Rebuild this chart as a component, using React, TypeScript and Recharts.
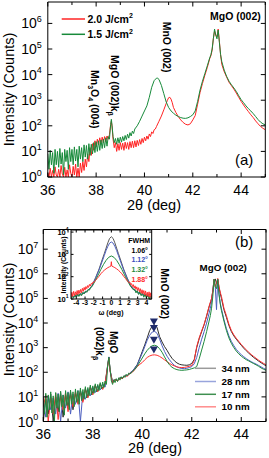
import React from "react";
import { ComposedChart, LineChart, Line, Scatter, XAxis, YAxis } from "recharts";

const FONT = '"Liberation Sans", Arial, Helvetica, sans-serif';

type Pt = [number, number];

// ---------- shared axis ticks ----------
const degTicks = [36, 37, 38, 39, 40, 41, 42, 43, 44, 45];
const degLabels = [36, 38, 40, 42, 44];
const decadesA = [1, 10, 100, 1e3, 1e4, 1e5, 1e6];
const decadesB = [1, 10, 100, 1e3, 1e4, 1e5, 1e6, 1e7];
const omegaTicks = [-4, -3, -2, -1, 0, 1, 2, 3, 4];
const decadesInset = [10, 100, 1e3, 1e4];

// ---------- panel (a): fluence series ----------
const fluence15: Pt[] = [
  [36.0, 8], [36.05, 2], [36.1, 11], [36.15, 3], [36.2, 9], [36.25, 1.4], [36.3, 12], [36.35, 3],
  [36.4, 10], [36.45, 2.4], [36.5, 13], [36.55, 3.2], [36.6, 9], [36.65, 1.2], [36.7, 12], [36.75, 4],
  [36.8, 11], [36.85, 2], [36.9, 14], [36.95, 4], [37.0, 12], [37.05, 3], [37.1, 15], [37.15, 4.2],
  [37.2, 12], [37.25, 2.5], [37.3, 16], [37.35, 5], [37.4, 14], [37.45, 4], [37.5, 18], [37.55, 6],
  [37.6, 17], [37.65, 5], [37.7, 20], [37.75, 7], [37.8, 19], [37.85, 8], [37.9, 22], [37.95, 9],
  [38.0, 24], [38.05, 10], [38.1, 26], [38.15, 11], [38.2, 28], [38.25, 13], [38.3, 30], [38.35, 14],
  [38.4, 34], [38.45, 16], [38.5, 38], [38.55, 30], [38.6, 110], [38.63, 180], [38.66, 100], [38.7, 38],
  [38.75, 22], [38.8, 32], [38.85, 19], [38.9, 34], [38.95, 21], [39.0, 36], [39.05, 23], [39.1, 38],
  [39.15, 26], [39.2, 42], [39.25, 29], [39.3, 47], [39.35, 33], [39.4, 54], [39.45, 40], [39.5, 62],
  [39.55, 50], [39.6, 75], [39.7, 100], [39.8, 150], [39.9, 240], [40.0, 380], [40.1, 600], [40.2, 1300],
  [40.3, 3200], [40.4, 5800], [40.5, 7300], [40.55, 7200], [40.6, 6500], [40.7, 3800], [40.8, 1800],
  [40.9, 850], [41.0, 520], [41.1, 380], [41.2, 310], [41.3, 260], [41.4, 230], [41.5, 210], [41.6, 198],
  [41.7, 195], [41.8, 205], [41.9, 230], [42.0, 270], [42.1, 380], [42.2, 900], [42.3, 2500], [42.4, 5500],
  [42.5, 11000], [42.6, 22000], [42.7, 45000], [42.75, 60000], [42.8, 100000], [42.85, 250000],
  [42.9, 600000], [42.95, 350000], [43.0, 250000], [43.05, 550000], [43.1, 180000], [43.15, 60000],
  [43.2, 32000], [43.3, 15000], [43.4, 8500], [43.5, 5500], [43.6, 4000], [43.7, 3000], [43.8, 2200],
  [43.9, 1500], [44.0, 1050], [44.1, 800], [44.2, 600], [44.3, 470], [44.4, 380], [44.5, 300],
  [44.6, 230], [44.7, 175], [44.8, 140], [44.9, 120], [45.0, 108],
];

const fluence20: Pt[] = [
  [36.0, 1.5], [36.05, 1], [36.1, 2.2], [36.15, 1], [36.2, 1.8], [36.25, 1], [36.3, 2.5], [36.35, 1.2],
  [36.4, 1], [36.45, 2], [36.5, 1], [36.55, 2.8], [36.6, 1.3], [36.65, 1], [36.7, 2.4], [36.75, 1],
  [36.8, 1.9], [36.85, 1], [36.9, 3], [36.95, 1.4], [37.0, 1], [37.05, 2.6], [37.1, 1.2], [37.15, 3.2],
  [37.2, 1], [37.25, 2.2], [37.3, 1], [37.35, 3.5], [37.4, 1.5], [37.45, 4], [37.5, 1.8], [37.55, 5],
  [37.6, 2.5], [37.65, 8], [37.7, 4], [37.75, 14], [37.8, 7], [37.85, 20], [37.9, 11], [37.95, 26],
  [38.0, 15], [38.05, 30], [38.1, 18], [38.15, 34], [38.2, 20], [38.25, 36], [38.3, 22], [38.35, 38],
  [38.4, 24], [38.45, 40], [38.5, 30], [38.55, 45], [38.6, 110], [38.63, 150], [38.66, 90], [38.7, 30],
  [38.75, 14], [38.8, 22], [38.85, 10], [38.9, 20], [38.95, 11], [39.0, 22], [39.05, 12], [39.1, 21],
  [39.15, 11], [39.2, 23], [39.25, 13], [39.3, 22], [39.35, 12], [39.4, 24], [39.45, 14], [39.5, 25],
  [39.55, 14], [39.6, 26], [39.65, 15], [39.7, 27], [39.75, 17], [39.8, 29], [39.85, 19], [39.9, 32],
  [39.95, 22], [40.0, 36], [40.05, 26], [40.1, 40], [40.15, 30], [40.2, 48], [40.25, 38], [40.3, 58],
  [40.35, 50], [40.4, 70], [40.45, 75], [40.5, 95], [40.6, 150], [40.7, 240], [40.8, 420], [40.9, 750],
  [40.95, 1000], [41.0, 1250], [41.05, 1300], [41.1, 1100], [41.15, 800], [41.2, 520], [41.3, 330],
  [41.4, 230], [41.5, 170], [41.6, 135], [41.7, 115], [41.8, 108], [41.9, 120], [42.0, 170], [42.1, 250],
  [42.2, 700], [42.3, 2000], [42.4, 4500], [42.5, 9500], [42.6, 19000], [42.7, 42000], [42.75, 55000],
  [42.8, 90000], [42.85, 250000], [42.9, 500000], [42.95, 350000], [43.0, 300000], [43.05, 600000],
  [43.1, 200000], [43.15, 60000], [43.2, 25000], [43.3, 13000], [43.4, 8000], [43.5, 5000], [43.6, 3700],
  [43.7, 2700], [43.8, 1900], [43.9, 1300], [44.0, 900], [44.1, 650], [44.2, 480], [44.3, 360],
  [44.4, 270], [44.5, 210], [44.6, 155], [44.7, 120], [44.8, 95], [44.9, 80], [45.0, 70],
];

// ---------- panel (b): thickness series ----------
const t34: Pt[] = [
  [36.0, 1], [36.1, 8], [36.2, 2], [36.3, 13], [36.4, 1], [36.5, 10], [36.6, 2.5], [36.7, 15], [36.8, 1.5],
  [36.9, 12], [37.0, 4], [37.1, 16], [37.2, 3], [37.3, 14], [37.4, 6], [37.5, 19], [37.6, 7], [37.7, 22],
  [37.8, 10], [37.9, 26], [38.0, 14], [38.1, 30], [38.2, 17], [38.3, 34], [38.4, 22], [38.5, 38],
  [38.6, 190], [38.65, 420], [38.7, 120], [38.8, 40], [38.9, 52], [39.0, 46], [39.1, 62], [39.2, 58],
  [39.3, 75], [39.4, 74], [39.5, 95], [39.6, 110], [39.7, 150], [39.8, 210], [39.9, 380], [40.0, 700],
  [40.1, 1300], [40.2, 2500], [40.3, 5000], [40.4, 7500], [40.5, 8500], [40.6, 6500], [40.7, 2800],
  [40.8, 1700], [40.9, 1100], [41.0, 780], [41.1, 520], [41.2, 370], [41.3, 290], [41.4, 240], [41.5, 212],
  [41.6, 200], [41.7, 195], [41.8, 192], [41.9, 200], [42.0, 230], [42.1, 330], [42.2, 1000], [42.3, 2300],
  [42.4, 4500], [42.5, 8500], [42.6, 19000], [42.7, 45000], [42.75, 65000], [42.8, 95000], [42.85, 200000],
  [42.9, 550000], [42.95, 620000], [43.0, 400000], [43.05, 600000], [43.1, 280000], [43.15, 160000],
  [43.2, 100000], [43.3, 35000], [43.4, 17000], [43.5, 8000], [43.6, 4500], [43.7, 3000], [43.8, 2200],
  [43.9, 1650], [44.0, 1250], [44.1, 950], [44.2, 750], [44.3, 600], [44.4, 490], [44.5, 400], [44.6, 340],
  [44.7, 285], [44.8, 245], [44.9, 210], [45.0, 185],
];

const t28: Pt[] = [
  [36.0, 7], [36.1, 1.5], [36.2, 11], [36.3, 3], [36.4, 9], [36.5, 2], [36.6, 14], [36.7, 1], [36.8, 12],
  [36.9, 3.5], [37.0, 16], [37.1, 2], [37.2, 13], [37.3, 5], [37.4, 18], [37.5, 1], [37.6, 16], [37.7, 8],
  [37.8, 21], [37.9, 11], [38.0, 25], [38.1, 15], [38.2, 29], [38.3, 19], [38.4, 33], [38.5, 25],
  [38.6, 180], [38.65, 410], [38.7, 115], [38.8, 38], [38.9, 51], [39.0, 45], [39.1, 60], [39.2, 57],
  [39.3, 73], [39.4, 72], [39.5, 92], [39.6, 108], [39.7, 145], [39.8, 200], [39.9, 350], [40.0, 600],
  [40.1, 1100], [40.2, 2000], [40.3, 3200], [40.4, 4300], [40.5, 4600], [40.6, 3800], [40.7, 2200],
  [40.8, 1200], [40.9, 700], [41.0, 450], [41.1, 320], [41.2, 240], [41.3, 190], [41.4, 165], [41.5, 150],
  [41.6, 142], [41.7, 140], [41.8, 145], [41.9, 155], [42.0, 170], [42.1, 220], [42.2, 400], [42.3, 1000],
  [42.4, 2200], [42.5, 4500], [42.6, 10000], [42.7, 25000], [42.75, 40000], [42.8, 70000], [42.85, 200000],
  [42.9, 600000], [42.95, 300000], [43.0, 35000], [43.05, 600000], [43.1, 150000], [43.15, 65000],
  [43.2, 38000], [43.3, 14000], [43.4, 6000], [43.5, 3000], [43.6, 1800], [43.7, 1200], [43.8, 850],
  [43.9, 650], [44.0, 520], [44.1, 430], [44.2, 360], [44.3, 310], [44.4, 270], [44.5, 240], [44.6, 215],
  [44.7, 190], [44.8, 165], [44.9, 145], [45.0, 130],
];

const t10: Pt[] = [
  [36.0, 4], [36.1, 12], [36.2, 1], [36.3, 9], [36.4, 2], [36.5, 14], [36.6, 1.2], [36.7, 11], [36.8, 3],
  [36.9, 15], [37.0, 2.5], [37.1, 13], [37.2, 4], [37.3, 17], [37.4, 5], [37.5, 15], [37.6, 6], [37.7, 20],
  [37.8, 9], [37.9, 24], [38.0, 12], [38.1, 28], [38.2, 16], [38.3, 32], [38.4, 20], [38.5, 36],
  [38.6, 170], [38.65, 370], [38.7, 110], [38.8, 36], [38.9, 50], [39.0, 44], [39.1, 58], [39.2, 55],
  [39.3, 70], [39.4, 70], [39.5, 88], [39.6, 100], [39.7, 130], [39.8, 170], [39.9, 210], [40.0, 250],
  [40.1, 320], [40.2, 400], [40.3, 460], [40.4, 500], [40.5, 510], [40.6, 490], [40.7, 440], [40.8, 380],
  [40.9, 320], [41.0, 270], [41.1, 230], [41.2, 200], [41.3, 180], [41.4, 165], [41.5, 158], [41.6, 155],
  [41.7, 158], [41.8, 165], [41.9, 175], [42.0, 190], [42.1, 300], [42.2, 1100], [42.3, 2500], [42.4, 4800],
  [42.5, 9000], [42.6, 20000], [42.7, 48000], [42.75, 70000], [42.8, 100000], [42.85, 200000],
  [42.9, 600000], [42.95, 300000], [43.0, 400000], [43.05, 650000], [43.1, 300000], [43.15, 180000],
  [43.2, 120000], [43.3, 40000], [43.4, 20000], [43.5, 9000], [43.6, 5000], [43.7, 3300], [43.8, 2400],
  [43.9, 1800], [44.0, 1350], [44.1, 1050], [44.2, 820], [44.3, 650], [44.4, 530], [44.5, 440], [44.6, 370],
  [44.7, 310], [44.8, 265], [44.9, 230], [45.0, 200],
];

const t17: Pt[] = [
  [36.0, 10], [36.05, 2], [36.1, 14], [36.15, 1.5], [36.2, 12], [36.25, 3], [36.3, 16], [36.35, 2.2],
  [36.4, 11], [36.45, 1], [36.5, 15], [36.55, 3.5], [36.6, 13], [36.65, 2.5], [36.7, 17], [36.75, 4],
  [36.8, 12], [36.85, 1.8], [36.9, 18], [36.95, 4.5], [37.0, 15], [37.05, 3], [37.1, 19], [37.15, 5],
  [37.2, 16], [37.25, 4], [37.3, 21], [37.35, 6], [37.4, 18], [37.45, 5], [37.5, 23], [37.55, 7],
  [37.6, 20], [37.65, 8], [37.7, 26], [37.75, 9], [37.8, 24], [37.85, 11], [37.9, 30], [37.95, 12],
  [38.0, 28], [38.05, 14], [38.1, 34], [38.15, 16], [38.2, 32], [38.25, 18], [38.3, 38], [38.35, 21],
  [38.4, 40], [38.45, 24], [38.5, 44], [38.55, 32], [38.6, 180], [38.65, 400], [38.7, 130], [38.75, 45],
  [38.8, 32], [38.85, 50], [38.9, 38], [38.95, 55], [39.0, 42], [39.05, 60], [39.1, 48], [39.15, 66],
  [39.2, 55], [39.25, 72], [39.3, 62], [39.35, 82], [39.4, 72], [39.45, 92], [39.5, 84], [39.6, 105],
  [39.7, 130], [39.8, 180], [39.9, 260], [40.0, 380], [40.1, 560], [40.2, 780], [40.3, 1000], [40.4, 1200],
  [40.5, 1250], [40.6, 1150], [40.7, 900], [40.8, 650], [40.9, 420], [41.0, 280], [41.1, 200], [41.2, 160],
  [41.3, 140], [41.4, 128], [41.5, 122], [41.6, 120], [41.7, 122], [41.8, 125], [41.9, 130], [42.0, 140],
  [42.1, 150], [42.2, 170], [42.3, 350], [42.4, 800], [42.5, 1800], [42.6, 4500], [42.7, 12000],
  [42.75, 20000], [42.8, 40000], [42.85, 120000], [42.9, 600000], [42.95, 300000], [43.0, 250000],
  [43.05, 600000], [43.1, 150000], [43.15, 60000], [43.2, 32000], [43.3, 12000], [43.4, 5000], [43.5, 2500],
  [43.6, 1500], [43.7, 1000], [43.8, 720], [43.9, 560], [44.0, 450], [44.1, 380], [44.2, 325], [44.3, 290],
  [44.4, 255], [44.5, 225], [44.6, 200], [44.7, 175], [44.8, 150], [44.9, 133], [45.0, 120],
];

// MnO (002) peak markers
const markerAngle = [40.47, 40.47, 40.47, 40.47];
const markerCounts = [11000, 6000, 2000, 800];

// ---------- inset: rocking curves ----------
const rc34: Pt[] = [
  [-4.6, 12], [-4.2, 13], [-3.8, 14], [-3.4, 16], [-3, 19], [-2.6, 25], [-2.2, 40], [-1.8, 90], [-1.4, 220],
  [-1.1, 500], [-0.8, 1100], [-0.6, 1900], [-0.4, 3300], [-0.2, 5200], [0, 6200], [0.2, 5200], [0.4, 3300],
  [0.6, 1900], [0.8, 1100], [1.1, 500], [1.4, 220], [1.8, 90], [2.2, 40], [2.6, 25], [3, 19], [3.4, 16],
  [3.8, 14], [4.2, 13], [4.6, 12],
];
const rc28: Pt[] = [
  [-4.6, 12], [-4.2, 13], [-3.8, 15], [-3.4, 17], [-3, 20], [-2.6, 26], [-2.2, 38], [-1.8, 85], [-1.4, 200],
  [-1.1, 420], [-0.8, 900], [-0.6, 1500], [-0.4, 2300], [-0.2, 3200], [0, 3600], [0.2, 3200], [0.4, 2300],
  [0.6, 1500], [0.8, 900], [1.1, 420], [1.4, 200], [1.8, 85], [2.2, 38], [2.6, 26], [3, 20], [3.4, 17],
  [3.8, 15], [4.2, 13], [4.6, 12],
];
const rc17: Pt[] = [
  [-4.6, 10], [-4.45, 15], [-4.3, 11], [-4.15, 16], [-4.0, 12], [-3.85, 17], [-3.7, 13], [-3.55, 18],
  [-3.4, 14], [-3.25, 20], [-3.1, 17], [-2.95, 23], [-2.8, 20], [-2.65, 27], [-2.5, 25], [-2.35, 33],
  [-2.2, 36], [-2.0, 50], [-1.8, 70], [-1.5, 120], [-1.2, 210], [-0.9, 350], [-0.6, 540], [-0.3, 740],
  [0, 850], [0.3, 740], [0.6, 540], [0.9, 350], [1.2, 210], [1.5, 120], [1.8, 70], [2.0, 50], [2.2, 37],
  [2.35, 31], [2.5, 26], [2.65, 28], [2.8, 19], [2.95, 24], [3.1, 16], [3.25, 21], [3.4, 14], [3.55, 19],
  [3.7, 12], [3.85, 17], [4.0, 11], [4.15, 16], [4.3, 10], [4.45, 14], [4.6, 10],
];
const rc10: Pt[] = [
  [-4.6, 12], [-4.5, 20], [-4.4, 13], [-4.3, 22], [-4.2, 14], [-4.1, 21], [-4.0, 15], [-3.9, 24],
  [-3.8, 16], [-3.7, 25], [-3.6, 18], [-3.5, 27], [-3.4, 19], [-3.3, 30], [-3.2, 22], [-3.1, 33],
  [-3.0, 25], [-2.9, 36], [-2.8, 29], [-2.7, 40], [-2.6, 33], [-2.5, 45], [-2.4, 38], [-2.3, 50],
  [-2.2, 46], [-2.1, 57], [-2.0, 55], [-1.8, 68], [-1.6, 85], [-1.4, 105], [-1.2, 135], [-1.0, 165],
  [-0.8, 195], [-0.6, 225], [-0.4, 255], [-0.2, 280], [-0.05, 300], [0, 470], [0.05, 300], [0.2, 280],
  [0.4, 255], [0.6, 225], [0.8, 195], [1.0, 165], [1.2, 135], [1.4, 105], [1.6, 84], [1.8, 66], [2.0, 54],
  [2.1, 58], [2.2, 44], [2.3, 49], [2.4, 36], [2.5, 44], [2.6, 31], [2.7, 39], [2.8, 27], [2.9, 35],
  [3.0, 24], [3.1, 32], [3.2, 21], [3.3, 29], [3.4, 18], [3.5, 26], [3.6, 17], [3.7, 24], [3.8, 15],
  [3.9, 23], [4.0, 14], [4.1, 20], [4.2, 13], [4.3, 21], [4.4, 12], [4.5, 19], [4.6, 12],
];

const rows = (pts: Pt[]) => pts.map(([x, y]) => ({ x, y }));
const markerRows = markerAngle.map((x, i) => ({ x, y: markerCounts[i] }));

// ---------- tick renderers (ticks point inward) ----------
// bottom axis: tick y is the axis line (tickSize/tickMargin are 0)
const bottomTick = (labels: number[], fs: number, dy: number, major: number, minor: number, bold = false) => (p: any) => {
  const { x, y, payload } = p;
  const v = payload.value;
  const lab = labels.includes(v);
  return (
    <g>
      <line x1={x} x2={x} y1={y} y2={y - (lab ? major : minor)} stroke="#000" />
      {lab && (
        <text x={x} y={y + dy} textAnchor="middle" fontSize={fs} fontFamily={FONT}
          fontWeight={bold ? "bold" : "normal"} fill="#000">
          {v}
        </text>
      )}
    </g>
  );
};

const topTick = (labels: number[], major: number, minor: number) => (p: any) => {
  const { x, y, payload } = p;
  const len = labels.includes(payload.value) ? major : minor;
  return <line x1={x} x2={x} y1={y} y2={y + len} stroke="#000" />;
};

const leftLogTick = (fs: number, sup: number, gap: number, len: number, bold = false) => (p: any) => {
  const { x, y, payload } = p;
  const e = Math.round(Math.log10(payload.value));
  return (
    <g>
      <line x1={x} x2={x + len} y1={y} y2={y} stroke="#000" />
      <text
        x={x - gap}
        y={y + fs * 0.36}
        textAnchor="end"
        fontSize={fs}
        fontFamily={FONT}
        fontWeight={bold ? "bold" : "normal"}
        fill="#000"
      >
        10
        <tspan dy={-fs * 0.45} fontSize={sup}>
          {e}
        </tspan>
      </text>
    </g>
  );
};

const rightTick = (len: number) => (p: any) => {
  const { x, y } = p;
  return <line x1={x} x2={x - len} y1={y} y2={y} stroke="#000" />;
};

const triangle = (p: any) => {
  const { cx, cy } = p;
  return <path d={`M${cx - 4},${cy - 3.5}L${cx + 4},${cy - 3.5}L${cx},${cy + 3.5}Z`} fill="#1f2b6b" />;
};

const abs: React.CSSProperties = { position: "absolute", left: 0, top: 0 };

const vLabel = (cx: number, top: number, fs: number, content: React.ReactNode) => (
  <text
    transform={`translate(${cx},${top}) rotate(90)`}
    y={fs * 0.36}
    fontSize={fs}
    fontWeight="bold"
    fontFamily={FONT}
    fill="#000"
  >
    {content}
  </text>
);

export default function App() {
  const axisStroke = { stroke: "#000", strokeWidth: 1 };
  return (
    <div style={{ position: "absolute", left: 0, top: 0, width: 269, height: 458, background: "#fff", fontFamily: FONT }}>
      {/* panel (a) */}
      <div style={abs}>
        <LineChart width={269} height={458} margin={{ top: 0, right: 0.7, bottom: 251, left: 0 }}>
          <XAxis dataKey="x" type="number" domain={[36, 45]} ticks={degTicks} interval={0} allowDataOverflow
            height={30} tickSize={0} tickMargin={0} tickLine={false} axisLine={axisStroke}
            tick={bottomTick(degLabels, 14, 17.5, 4.5, 3)} />
          <XAxis xAxisId="top" orientation="top" dataKey="x" type="number" domain={[36, 45]} ticks={degTicks}
            interval={0} allowDataOverflow height={2} tickSize={0} tickMargin={0} tickLine={false}
            axisLine={axisStroke} tick={topTick(degLabels, 4.5, 3)} />
          <YAxis type="number" scale="log" domain={[1, 6.86e6]} ticks={decadesA} interval={0} allowDataOverflow
            width={47.8} tickSize={0} tickMargin={0} tickLine={false} axisLine={axisStroke}
            tick={leftLogTick(14, 9, 6, 4.5)} />
          <YAxis yAxisId="right" orientation="right" type="number" scale="log" domain={[1, 6.86e6]} ticks={decadesA}
            interval={0} allowDataOverflow width={3} tickSize={0} tickMargin={0} tickLine={false}
            axisLine={axisStroke} tick={rightTick(4.5)} />
          <Line data={rows(fluence20)} dataKey="y" stroke="#ff2424" strokeWidth={1} dot={false} isAnimationActive={false} />
          <Line data={rows(fluence15)} dataKey="y" stroke="#178a3a" strokeWidth={1} dot={false} isAnimationActive={false} />
        </LineChart>
      </div>

      {/* panel (b) */}
      <div style={abs}>
        <ComposedChart width={269} height={458} margin={{ top: 219.5, right: 0, bottom: 6.5, left: 0 }}>
          <XAxis dataKey="x" type="number" domain={[36, 45]} ticks={degTicks} interval={0} allowDataOverflow
            height={30} tickSize={0} tickMargin={0} tickLine={false} axisLine={axisStroke}
            tick={bottomTick(degLabels, 14, 17, 4.5, 3)} />
          <XAxis xAxisId="top" orientation="top" dataKey="x" type="number" domain={[36, 45]} ticks={degTicks}
            interval={0} allowDataOverflow height={10} tickSize={0} tickMargin={0} tickLine={false}
            axisLine={axisStroke} tick={topTick(degLabels, 4.5, 3)} />
          <YAxis type="number" scale="log" domain={[1, 6.3e7]} ticks={decadesB} interval={0} allowDataOverflow
            width={43.3} tickSize={0} tickMargin={0} tickLine={false} axisLine={axisStroke}
            tick={leftLogTick(14, 9, 5, 4.5)} />
          <YAxis yAxisId="right" orientation="right" type="number" scale="log" domain={[1, 6.3e7]} ticks={decadesB}
            interval={0} allowDataOverflow width={3} tickSize={0} tickMargin={0} tickLine={false}
            axisLine={axisStroke} tick={rightTick(4.5)} />
          <Line data={rows(t34)} dataKey="y" stroke="#2b2b2b" strokeWidth={1} dot={false} isAnimationActive={false} />
          <Line data={rows(t28)} dataKey="y" stroke="#4d5fbf" strokeWidth={1} dot={false} isAnimationActive={false} />
          <Line data={rows(t10)} dataKey="y" stroke="#ff3030" strokeWidth={1} dot={false} isAnimationActive={false} />
          <Line data={rows(t17)} dataKey="y" stroke="#1f8a3d" strokeWidth={1} dot={false} isAnimationActive={false} />
          <Scatter data={markerRows} dataKey="y" shape={triangle} isAnimationActive={false} />
        </ComposedChart>
      </div>

      {/* inset background */}
      <div style={{ position: "absolute", left: 71, top: 230, width: 80.7, height: 69, background: "#fff" }} />

      {/* inset */}
      <div style={abs}>
        <LineChart width={269} height={458} margin={{ top: 220, right: 107.3, bottom: 139, left: 0 }}>
          <XAxis dataKey="x" type="number" domain={[-4.6, 4.6]} ticks={omegaTicks} interval={0} allowDataOverflow
            height={20} tickSize={0} tickMargin={0} tickLine={false} axisLine={axisStroke}
            tick={bottomTick(omegaTicks, 6.8, 6.3, 2.5, 2.5, true)} />
          <XAxis xAxisId="top" orientation="top" dataKey="x" type="number" domain={[-4.6, 4.6]} ticks={omegaTicks}
            interval={0} allowDataOverflow height={10} tickSize={0} tickMargin={0} tickLine={false}
            axisLine={axisStroke} tick={topTick(omegaTicks, 2.5, 2.5)} />
          <YAxis type="number" scale="log" domain={[10, 12400]} ticks={decadesInset} interval={0} allowDataOverflow
            width={71} tickSize={0} tickMargin={0} tickLine={false} axisLine={axisStroke}
            tick={leftLogTick(7.5, 5, 2.5, 2.5, true)} />
          <YAxis yAxisId="right" orientation="right" type="number" scale="log" domain={[10, 12400]} ticks={decadesInset}
            interval={0} allowDataOverflow width={10} tickSize={0} tickMargin={0} tickLine={false}
            axisLine={axisStroke} tick={rightTick(2.5)} />
          <Line data={rows(rc34)} dataKey="y" stroke="#555555" strokeWidth={1} dot={false} isAnimationActive={false} />
          <Line data={rows(rc28)} dataKey="y" stroke="#4d5fbf" strokeWidth={1} dot={false} isAnimationActive={false} />
          <Line data={rows(rc17)} dataKey="y" stroke="#1f8a3d" strokeWidth={1} dot={false} isAnimationActive={false} />
          <Line data={rows(rc10)} dataKey="y" stroke="#ff3030" strokeWidth={1} dot={false} isAnimationActive={false} />
        </LineChart>
      </div>

      {/* annotations */}
      <svg width={269} height={458} style={{ ...abs, pointerEvents: "none" }} fontFamily={FONT}>
        {/* axis titles */}
        <text transform="translate(9,89.5) rotate(-90)" y={14.5 * 0.36} textAnchor="middle" fontSize={14.5}>Intensity (Counts)</text>
        <text transform="translate(9,319.5) rotate(-90)" y={14.5 * 0.36} textAnchor="middle" fontSize={14.5}>Intensity (Counts)</text>
        <text x={154} y={210} textAnchor="middle" fontSize={14.5}>2θ (deg)</text>
        <text x={155} y={453} textAnchor="middle" fontSize={14.5}>2θ (deg)</text>
        <text x={235} y={165} fontSize={15}>(a)</text>
        <text x={235} y={246.5} fontSize={15}>(b)</text>

        {/* legend (a) */}
        <line x1={61.7} x2={85} y1={19} y2={19} stroke="#ff2424" strokeWidth={1.5} />
        <text x={87.5} y={22.8} fontSize={10.5} fontWeight="bold">2.0 J/cm<tspan dy={-4.5} fontSize={7}>2</tspan></text>
        <line x1={61.7} x2={85} y1={34.3} y2={34.3} stroke="#178a3a" strokeWidth={1.5} />
        <text x={87.5} y={38.1} fontSize={10.5} fontWeight="bold">1.5 J/cm<tspan dy={-4.5} fontSize={7}>2</tspan></text>

        {/* peak labels (a) */}
        <text x={210} y={19.5} fontSize={10.5} fontWeight="bold">MgO (002)</text>
        {vLabel(166.5, 21.7, 10.5, "MnO (002)")}
        {vLabel(114.5, 55, 10.5, <>MgO (002)k<tspan dy={3} fontSize={7}>β</tspan></>)}
        {vLabel(95, 70, 10.5, <>Mn<tspan dy={3} fontSize={7}>3</tspan><tspan dy={-3}>O</tspan><tspan dy={3} fontSize={7}>4</tspan><tspan dy={-3}> (004)</tspan></>)}

        {/* peak labels (b) */}
        <text x={199.5} y={271} fontSize={9.8} fontWeight="bold">MgO (002)</text>
        {vLabel(165, 268.3, 10.5, "MnO (002)")}
        {vLabel(113.3, 331, 10, "MgO")}
        {vLabel(100, 327, 10, <>(002)k<tspan dy={3} fontSize={7}>β</tspan></>)}

        {/* legend (b) */}
        <line x1={195} x2={216} y1={368.3} y2={368.3} stroke="#9a9a9a" strokeWidth={1.5} />
        <text x={221.5} y={371.8} fontSize={9.8} fontWeight="bold">34 nm</text>
        <line x1={195} x2={216} y1={381.5} y2={381.5} stroke="#98a4dc" strokeWidth={1.5} />
        <text x={221.5} y={385} fontSize={9.8} fontWeight="bold">28 nm</text>
        <line x1={195} x2={216} y1={394.3} y2={394.3} stroke="#3f8f50" strokeWidth={1.5} />
        <text x={221.5} y={397.8} fontSize={9.8} fontWeight="bold">17 nm</text>
        <line x1={195} x2={216} y1={406.8} y2={406.8} stroke="#ff8c8c" strokeWidth={1.5} />
        <text x={221.5} y={410.3} fontSize={9.8} fontWeight="bold">10 nm</text>

        {/* inset texts */}
        <text transform="translate(63.3,265) rotate(-90)" y={6.7 * 0.36} textAnchor="middle" fontSize={6.7} fontWeight="bold">Intensity (Counts)</text>
        <text x={111} y={314.8} textAnchor="middle" fontSize={7} fontWeight="bold">ω (deg)</text>
        <text x={128.3} y={243} fontSize={7} fontWeight="bold">FWHM</text>
        <text x={131.5} y={252.5} fontSize={7} fontWeight="bold" fill="#000">1.06°</text>
        <text x={131.5} y={262.3} fontSize={7} fontWeight="bold" fill="#3a4fc0">1.12°</text>
        <text x={131.5} y={272.3} fontSize={7} fontWeight="bold" fill="#1f8a3d">1.32°</text>
        <text x={131.5} y={282} fontSize={7} fontWeight="bold" fill="#ff2a2a">1.88°</text>
      </svg>
    </div>
  );
}
